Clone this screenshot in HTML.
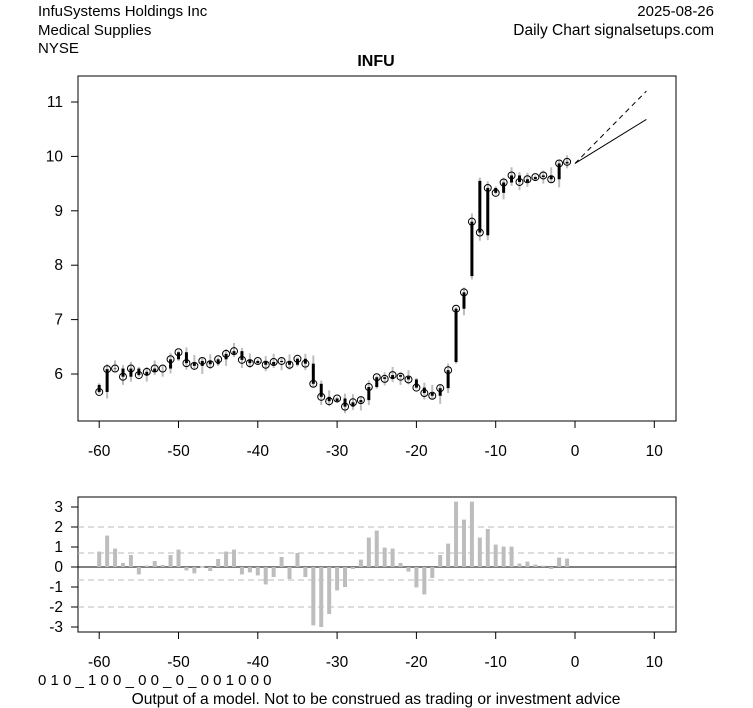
<!DOCTYPE html>
<html><head><meta charset="utf-8"><style>
body{margin:0;background:#fff;width:753px;height:708px;overflow:hidden}
svg{display:block;font-family:"Liberation Sans",Arial,sans-serif}
</style></head><body>
<svg id="s" width="753" height="708" xmlns="http://www.w3.org/2000/svg">
<rect width="753" height="708" fill="#fff"/>
<g font-size="15" fill="#000">
<text x="38" y="16">InfuSystems Holdings Inc</text>
<text x="38" y="35">Medical Supplies</text>
<text x="38" y="53">NYSE</text>
<text x="714" y="16" text-anchor="end">2025-08-26</text>
<text x="714" y="35" text-anchor="end" font-size="15.5">Daily Chart signalsetups.com</text>
<text x="376" y="66" text-anchor="middle" font-weight="bold" font-size="16">INFU</text>
<text x="38" y="685">0 1 0 _ 1 0 0 _ 0 0 _ 0 _ 0 0 1 0 0 0</text>
<text x="376" y="704" text-anchor="middle" font-size="15.6">Output of a model. Not to be construed as trading or investment advice</text>
</g>
<rect x="78" y="76" width="598" height="345" fill="none" stroke="#000"/>
<rect x="78" y="497" width="598" height="135" fill="none" stroke="#000"/>
<g id="g"></g>
</svg>
<script>
const g=document.getElementById('g');let h='';
const X=v=>575+v*7.93, Y=v=>374-(v-6)*54.4, Z=v=>567-v*20;
for(let v=-60;v<=10;v+=10){const x=X(v);
h+=`<line x1="${x}" y1="421" x2="${x}" y2="428" stroke="#000"/><text x="${x}" y="456" font-size="15.5" text-anchor="middle">${v}</text>`;
h+=`<line x1="${x}" y1="632" x2="${x}" y2="639" stroke="#000"/><text x="${x}" y="667" font-size="15.5" text-anchor="middle">${v}</text>`;}
for(let v=6;v<=11;v++){const y=Y(v);h+=`<line x1="71" y1="${y}" x2="78" y2="${y}" stroke="#000"/><text x="63" y="${y+5}" font-size="15.5" text-anchor="end">${v}</text>`;}
for(let v=-3;v<=3;v++){const y=Z(v);h+=`<line x1="71" y1="${y}" x2="78" y2="${y}" stroke="#000"/><text x="63" y="${y+5}" font-size="15.5" text-anchor="end">${v}</text>`;}
[2,0.7,-0.65,-2].forEach(v=>{h+=`<line x1="78" y1="${Z(v)}" x2="676" y2="${Z(v)}" stroke="#bbb" stroke-dasharray="6,4"/>`});
h+=`<line x1="78" y1="567" x2="676" y2="567" stroke="#000"/>`;
const b=[0.77,1.57,0.92,0.2,0.6,-0.37,0.07,0.3,0.1,0.6,0.87,-0.17,-0.32,0.02,-0.2,0.4,0.77,0.87,-0.37,-0.27,-0.42,-0.87,-0.5,0.5,-0.6,0.7,-0.5,-2.92,-3.0,-2.35,-1.17,-1.0,-0.1,0.37,1.47,1.82,0.97,0.92,0.2,-0.23,-1.02,-1.37,-0.55,0.6,1.17,3.27,2.37,3.27,1.47,1.9,1.12,1.02,1.02,0.17,0.27,0.12,0.07,-0.1,0.47,0.42];
b.forEach((v,i)=>{const x=X(i-60),y=Z(v);h+=`<rect x="${x-2}" y="${Math.min(y,567)}" width="4" height="${Math.max(1,Math.abs(567-y))}" fill="#bdbdbd"/>`});
const c=[5.67,6.09,6.1,5.95,6.1,5.98,6.04,6.1,6.1,6.27,6.4,6.2,6.15,6.24,6.18,6.27,6.37,6.42,6.26,6.2,6.24,6.17,6.22,6.24,6.17,6.28,6.19,5.82,5.58,5.5,5.55,5.4,5.48,5.52,5.76,5.94,5.91,5.98,5.95,5.9,5.75,5.65,5.6,5.74,6.07,7.2,7.5,8.8,8.6,9.42,9.33,9.52,9.65,9.53,9.58,9.62,9.65,9.58,9.87,9.9];
const op={45:6.22,47:7.8,48:9.55,49:8.55};
c.forEach((v,i)=>{const x=X(i-60);let o=op[i]!==undefined?op[i]:(i?c[i-1]:5.8);
const hi=Math.max(o,v)+0.03+((i*7)%5)*0.03,lo=Math.min(o,v)-0.03-((i*3)%5)*0.03;
h+=`<line x1="${x}" y1="${Y(hi)}" x2="${x}" y2="${Y(lo)}" stroke="#bdbdbd" stroke-width="2"/>`;
h+=`<line x1="${x}" y1="${Y(o)}" x2="${x}" y2="${Y(v)}" stroke="#000" stroke-width="3"/>`;
h+=`<circle cx="${x}" cy="${Y(v)}" r="3.5" fill="none" stroke="#000"/>`;});
h+=`<line x1="${X(0)}" y1="${Y(9.87)}" x2="${X(9)}" y2="${Y(10.68)}" stroke="#000"/>`;
h+=`<line x1="${X(0)}" y1="${Y(9.87)}" x2="${X(9)}" y2="${Y(11.2)}" stroke="#000" stroke-dasharray="5,4"/>`;
g.innerHTML=h;
</script>
</body></html>
